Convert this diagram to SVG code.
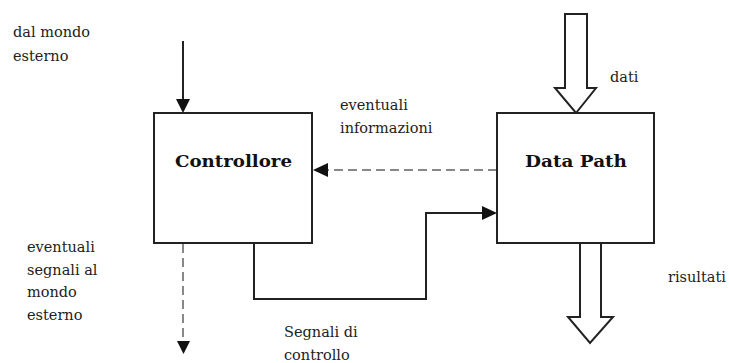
<svg xmlns="http://www.w3.org/2000/svg" width="729" height="363" viewBox="0 0 729 363">
<style>
.box{fill:#fff;stroke:#222;stroke-width:2}
.ln{fill:none;stroke:#222;stroke-width:2}
.dash{fill:none;stroke:#888;stroke-width:2;stroke-dasharray:9 5}
.hol{fill:#fff;stroke:#222;stroke-width:2;stroke-linejoin:miter}
.head{fill:#111}
.t{font-family:"DejaVu Serif","Liberation Serif",serif;font-size:14.5px;fill:#222}
.b{font-family:"DejaVu Serif","Liberation Serif",serif;font-size:16px;font-weight:bold;fill:#111}
</style>
<rect width="729" height="363" fill="#fff"/>
<g id="connectors">
<line class="ln" x1="183" y1="41" x2="183" y2="101"/>
<polygon class="head" points="176,99 190,99 183,113"/>
<line class="dash" x1="497" y1="170" x2="327" y2="170"/>
<polygon class="head" points="313,170 328,163 328,177"/>
<path class="ln" d="M254 243 V299 H426 V213 H484"/>
<polygon class="head" points="482,206 497,213 482,220"/>
<line class="dash" x1="183" y1="244" x2="183" y2="343"/>
<polygon class="head" points="177,341 190,341 183.5,354"/>
<polygon id="dati-arrow" class="hol" points="565,14 587,14 587,88 596,88 576,113 555,88 565,88"/>
<polygon id="risultati-arrow" class="hol" points="580,243 601,243 601,317 613,317 590,343 568,317 580,317"/>
</g>
<g id="controllore">
<rect class="box" x="154" y="113" width="158" height="130"/>
<text class="b" x="175" y="167" textLength="117" lengthAdjust="spacingAndGlyphs">Controllore</text>
</g>
<g id="datapath">
<rect class="box" x="497" y="113" width="157" height="130"/>
<text class="b" x="525" y="167" textLength="102" lengthAdjust="spacingAndGlyphs">Data Path</text>
</g>
<g id="labels">
<text class="t" x="13" y="37">dal mondo</text>
<text class="t" x="13" y="61">esterno</text>
<text class="t" x="340" y="110">eventuali</text>
<text class="t" x="340" y="133">informazioni</text>
<text class="t" x="610" y="82">dati</text>
<text class="t" x="668" y="282">risultati</text>
<text class="t" x="27" y="252">eventuali</text>
<text class="t" x="27" y="275">segnali al</text>
<text class="t" x="27" y="297">mondo</text>
<text class="t" x="27" y="320">esterno</text>
<text class="t" x="284" y="337">Segnali di</text>
<text class="t" x="284" y="360">controllo</text>
</g>
</svg>
